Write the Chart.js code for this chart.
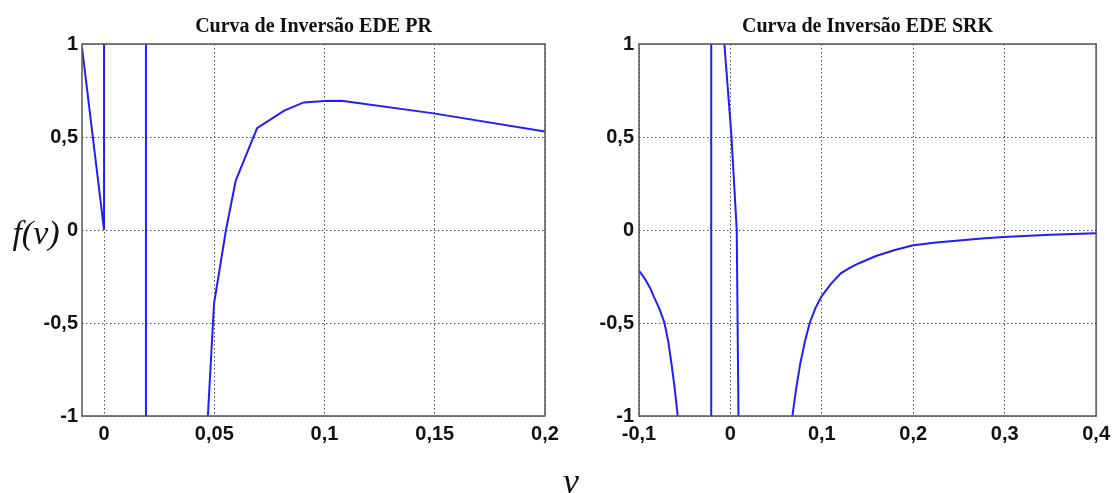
<!DOCTYPE html>
<html>
<head>
<meta charset="utf-8">
<script src="https://cdn.jsdelivr.net/npm/chart.js@4.4.0/dist/chart.umd.min.js"></script>
<style>
  body { margin: 0; background: #fff; width: 1116px; height: 493px; position: relative; overflow: hidden; }
  canvas { position: absolute; top: 0; }
  #chartPR { left: 0; }
  #chartSRK { left: 560px; }
  .lbl { position: absolute; font-family: "Liberation Serif", "DejaVu Serif", serif; font-style: italic; color: #111; line-height: 1; transform: translate(-50%, -50%); white-space: nowrap; }
</style>
</head>
<body>
<canvas id="chartPR" width="575" height="465"></canvas>
<canvas id="chartSRK" width="556" height="465"></canvas>
<div class="lbl" style="left:36px; top:233px; font-size:34px;">f(v)</div>
<div class="lbl" style="left:571px; top:481px; font-size:36px;">v</div>
<script>
// tick labels
const yTicks = [-1, -0.5, 0, 0.5, 1];
const xTicksPR = [0, 0.05, 0.1, 0.15, 0.2];
const xTicksSRK = [-0.1, 0, 0.1, 0.2, 0.3, 0.4];

// EDE PR curve, null splits the branches at the asymptotes
const vPR = [-0.01, 0, 0, null, 0.019, 0.019, null,
  0.0469, 0.0471, 0.0494, 0.0499, 0.0553, 0.0597, 0.0694, 0.0817, 0.0906, 0.1, 0.1077, 0.1495, 0.2];
const fPR = [0.982, 0, 1.5, null, 1.5, -1.5, null,
  -1.05, -1, -0.5, -0.394, 0, 0.265, 0.547, 0.642, 0.686, 0.694, 0.695, 0.627, 0.53];

// EDE SRK curve
const vSRK = [-0.1, -0.096, -0.092, -0.088, -0.0838, -0.078, -0.0722, -0.068, -0.0645, -0.061, -0.0576, -0.0571, null,
  -0.021, -0.021, null,
  -0.0075, -0.0066, 0.0011, 0.0069, 0.0088, 0.009, null,
  0.0665, 0.0678, 0.072, 0.0763, 0.0815, 0.0867, 0.093, 0.0995, 0.11, 0.1207, 0.13, 0.14, 0.1593, 0.178,
  0.1986, 0.225, 0.25, 0.275, 0.2989, 0.35, 0.4];
const fSRK = [-0.219, -0.245, -0.275, -0.31, -0.358, -0.42, -0.498, -0.6, -0.717, -0.85, -1, -1.05, null,
  1.5, -1.5, null,
  1.1, 1, 0.507, 0, -1, -1.1, null,
  -1.05, -1, -0.85, -0.72, -0.6, -0.5, -0.42, -0.358, -0.29, -0.233, -0.205, -0.18, -0.14, -0.11,
  -0.083, -0.067, -0.056, -0.046, -0.037, -0.026, -0.018];

function commaLabel(v) {
    return String(v).replace('.', ',');
}

// draws the dark frame round the plot area, on top of the curve
const boxPlugin = {
    id: 'box',
    afterDatasetsDraw(chart) {
        const a = chart.chartArea;
        const ctx = chart.ctx;
        ctx.save();
        ctx.strokeStyle = '#555';
        ctx.lineWidth = 1.5;
        ctx.strokeRect(a.left, a.top, a.right - a.left, a.bottom - a.top);
        ctx.restore();
    }
};

function makeChart(id, title, xs, ys, xTicks, xMin, xMax, axisWidth, padRight, labelPad) {
    const points = xs.map((x, i) => ({ x: x, y: ys[i] }));
    const tickFont = { family: '"Liberation Sans", Arial, sans-serif', size: 20, weight: 'bold' };
    const gridOpts = { color: 'rgba(60,60,60,0.9)', lineWidth: 1, drawTicks: false };
    return new Chart(document.getElementById(id), {
        type: 'line',
        data: {
            datasets: [{
                data: points,
                borderColor: 'rgb(30,30,255)',
                borderWidth: 2,
                pointRadius: 0,
                fill: false,
                tension: 0,
                spanGaps: false
            }]
        },
        options: {
            responsive: false,
            animation: false,
            events: [],
            layout: { padding: { left: 0, right: padRight, top: 0, bottom: 0 } },
            plugins: {
                legend: { display: false },
                tooltip: { enabled: false },
                title: {
                    display: true,
                    text: title,
                    fullSize: false,
                    color: '#111',
                    font: { family: '"Liberation Serif", "Times New Roman", serif', size: 20, weight: 'bold' },
                    padding: { top: 15, bottom: 5 }
                }
            },
            scales: {
                x: {
                    type: 'linear',
                    min: xMin,
                    max: xMax,
                    afterBuildTicks: s => { s.ticks = xTicks.map(v => ({ value: v })); },
                    afterFit: s => { s.height = 49; },
                    grid: gridOpts,
                    border: { display: false, dash: [1.5, 2.5] },
                    ticks: { color: '#111', font: tickFont, padding: 6, maxRotation: 0, autoSkip: false, callback: v => commaLabel(v) }
                },
                y: {
                    min: -1,
                    max: 1,
                    afterBuildTicks: s => { s.ticks = yTicks.map(v => ({ value: v })); },
                    afterFit: s => { s.width = axisWidth; },
                    grid: gridOpts,
                    border: { display: false, dash: [1.5, 2.5] },
                    ticks: { color: '#111', font: tickFont, padding: labelPad, callback: v => commaLabel(v) }
                }
            }
        },
        plugins: [boxPlugin]
    });
}

makeChart('chartPR', 'Curva de Inversão EDE PR', vPR, fPR, xTicksPR, -0.01, 0.2, 82, 30, 4);
makeChart('chartSRK', 'Curva de Inversão EDE SRK', vSRK, fSRK, xTicksSRK, -0.1, 0.4, 79, 17, 5);
</script>
</body>
</html>
